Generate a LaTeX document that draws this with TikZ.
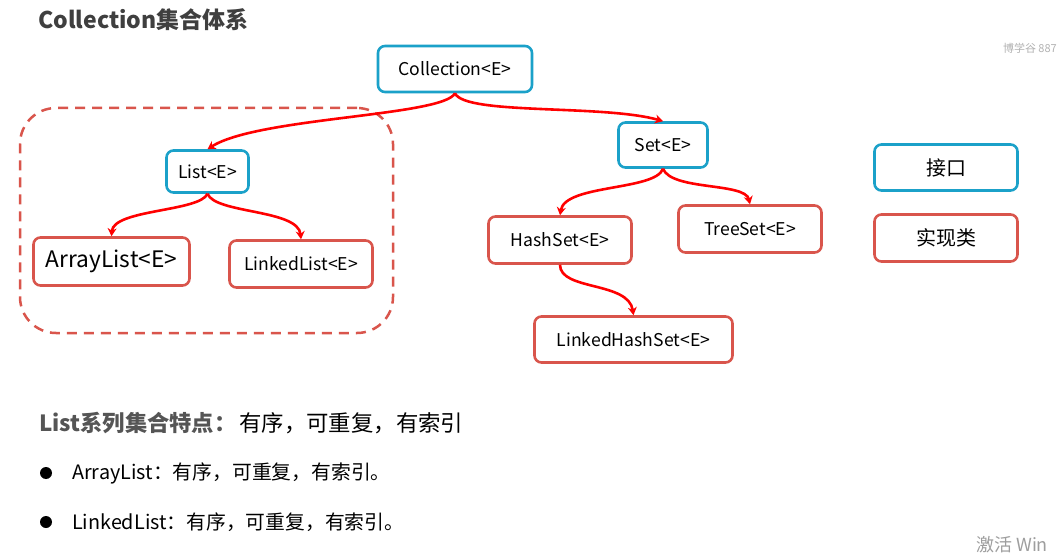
\documentclass[tikz,border=0pt]{standalone}
\usepackage{fontspec}
\setmainfont{Noto Sans CJK SC}
\usetikzlibrary{arrows.meta,calc}
\definecolor{iblue}{HTML}{1BA1C9}
\definecolor{ired}{HTML}{D9554C}
\definecolor{arr}{HTML}{FF0000}
\definecolor{ttl}{HTML}{3F3F3F}
\definecolor{subt}{HTML}{555555}
\begin{document}
\begin{tikzpicture}[x=1pt,y=-1pt,
  box/.style={draw, rounded corners=7pt, line width=2.6pt, inner sep=0pt, text=black,
              font=\fontsize{17.6}{19}\selectfont},
  ibox/.style={box, draw=iblue},
  cbox/.style={box, draw=ired},
  arw/.style={draw=arr, line width=2.6pt, -{Stealth[length=8pt,width=9pt]}},
  txt/.style={anchor=west, inner sep=0pt, text=black}]
\useasboundingbox (0,0) rectangle (1058,556);
\fill[white] (0,0) rectangle (1058,556);

% title
\node[txt, text=ttl, font=\fontsize{23}{26}\selectfont\bfseries] (title) at (38,20) {Collection集合体系};
\node[anchor=east, inner sep=0pt, text=black!30, font=\fontsize{11}{12}\selectfont] (wm) at (1057,48) {博学谷 887};

% group
\node[draw=ired, dash pattern=on 10pt off 7pt, line width=2.5pt, rounded corners=36pt,
      minimum width=373pt, minimum height=225pt, inner sep=0pt] (grp) at (206.5,220.5) {};

% nodes
\node[ibox, minimum width=154pt, minimum height=46pt] (col) at (455,69) {Collection<E>};
\node[ibox, minimum width=82pt, minimum height=42pt] (list) at (207.5,171.5) {List<E>};
\node[ibox, minimum width=89pt, minimum height=45pt] (set) at (663,145) {Set<E>};
\node[cbox, minimum width=156pt, minimum height=48pt, font=\fontsize{22.7}{25}\selectfont] (al) at (111.5,261.5) {ArrayList<E>};
\node[cbox, minimum width=143pt, minimum height=47pt] (ll) at (301,264) {LinkedList<E>};
\node[cbox, minimum width=143pt, minimum height=47pt] (hs) at (560,240) {HashSet<E>};
\node[cbox, minimum width=143pt, minimum height=47pt] (ts) at (750,229) {TreeSet<E>};
\node[cbox, minimum width=198pt, minimum height=46pt] (lhs) at (633.5,339.5) {LinkedHashSet<E>};
\node[ibox, minimum width=143pt, minimum height=46pt, font=\fontsize{20}{22}\selectfont] (lg1) at (946,167.5) {接口};
\node[cbox, minimum width=143pt, minimum height=47pt, font=\fontsize{20}{22}\selectfont] (lg2) at (946,238) {实现类};

% connectors
\draw[arw] (col.south) .. controls ($(col.south)+(-12,23)$) and ($(list.north)+(50,-32)$) .. (list.north);
\draw[arw] (col.south) .. controls ($(col.south)+(10,22)$) and ($(set.north)+(-60,-17)$) .. (set.north);
\draw[arw] (list.south) .. controls ($(list.south)+(-8,18)$) and ($(al.north)+(2,-27)$) .. (al.north);
\draw[arw] (list.south) .. controls ($(list.south)+(8,20)$) and ($(ll.north)+(-3,-30)$) .. (ll.north);
\draw[arw] (set.south) .. controls ($(set.south)+(-8,22)$) and ($(hs.north)+(5,-31)$) .. (hs.north);
\draw[arw] (set.south) .. controls ($(set.south)+(9,22)$) and ($(ts.north)+(-5,-22)$) .. (ts.north);
\draw[arw] (hs.south) .. controls ($(hs.south)+(0,26)$) and ($(lhs.north)+(-5,-34)$) .. (lhs.north);

% bottom text
\node[txt, text=subt, font=\fontsize{22.3}{25}\selectfont\bfseries] (feat) at (39,423) {List系列集合特点：};
\node[txt, font=\fontsize{22.4}{25}\selectfont] (feat2) at (239,423) {有序，可重复，有索引};
\node[circle, fill=black, minimum size=12pt, inner sep=0pt] (b1) at (46,473) {};
\node[circle, fill=black, minimum size=12pt, inner sep=0pt] (b2) at (46,522) {};
\node[txt, font=\fontsize{19.8}{22}\selectfont] (t1) at (72,473) {ArrayList：有序，可重复，有索引。};
\node[txt, font=\fontsize{19.8}{22}\selectfont] (t2) at (72,522) {LinkedList：有序，可重复，有索引。};
\node[txt, text=black!38, font=\fontsize{18}{20}\selectfont] (win) at (976,545) {激活 Win};
\end{tikzpicture}
\end{document}
